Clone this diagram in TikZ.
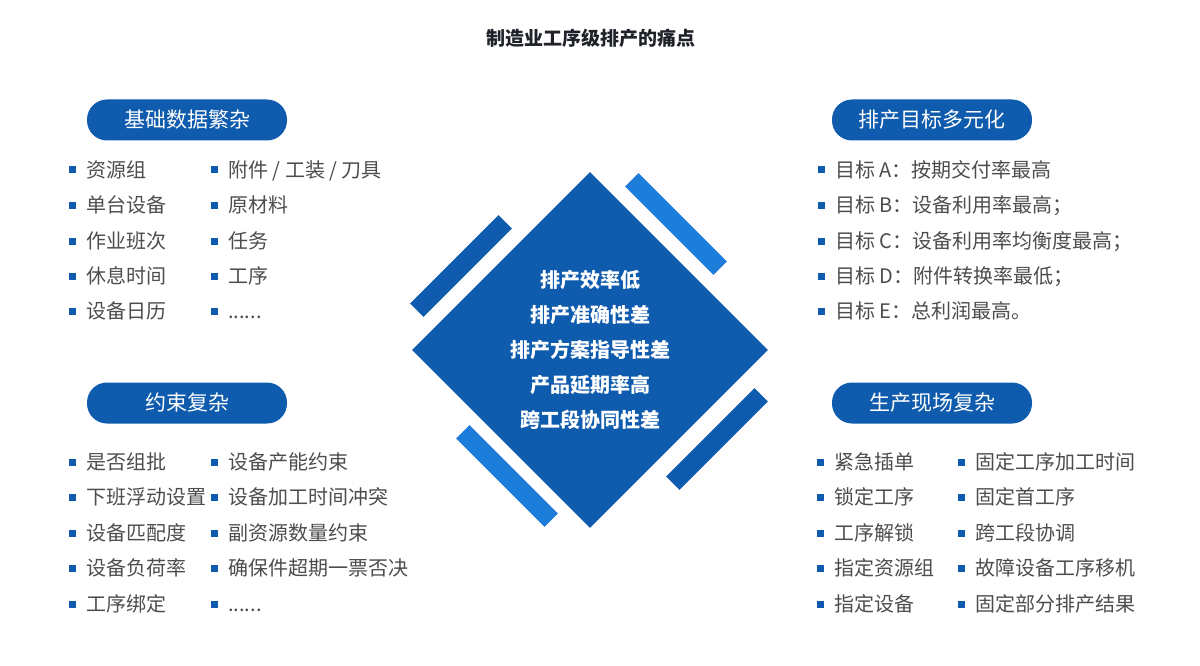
\documentclass[tikz,border=0pt]{standalone}
\usepackage{fontspec}
\setmainfont{Noto Sans CJK SC}
\usetikzlibrary{positioning,shapes.geometric}
\definecolor{dkblue}{HTML}{0F5BAD}
\definecolor{ltblue}{HTML}{1C7CDA}
\definecolor{txtgray}{HTML}{4D4D4D}
\definecolor{ttl}{HTML}{1F2329}
\tikzset{
  core/.style={diamond,fill=dkblue,minimum width=356pt,minimum height=356pt,
               inner sep=0pt},
  ctxt/.style={text=white,font=\fontsize{20}{35}\selectfont\bfseries,align=center},
  bar/.style ={minimum width=125pt,minimum height=19pt,inner sep=0pt},
  pill/.style={fill=dkblue,rounded corners=20pt,minimum width=200pt,
               minimum height=41pt,text=white,font=\fontsize{21}{21}\selectfont},
  sq/.style  ={fill=dkblue,minimum size=7pt,inner sep=0pt,
               text height=0pt,text depth=0pt,label distance=10pt},
  itm/.style ={anchor=west,inner sep=0pt,text=txtgray,
               font=\fontsize{20}{20}\selectfont,text height=17.6pt,text depth=2.4pt,
               label={[sq]left:{}}},
  hdr/.style ={font=\fontsize{19}{19}\selectfont\bfseries,text=ttl},
}
\begin{document}
\begin{tikzpicture}[x=1pt,y=-1pt]
  \fill[white] (0,0) rectangle (1200,666);
  \useasboundingbox (0,0) rectangle (1200,666);
  \node[hdr] (title) at (591,38) {制造业工序级排产的痛点};
  % centre diamond and the four bars
  \node[bar,fill=dkblue,rotate=45]  (barul) at (461,266) {};
  \node[bar,fill=ltblue,rotate=-45] (barur) at (676,224) {};
  \node[bar,fill=ltblue,rotate=-45] (barll) at (507,476) {};
  \node[bar,fill=dkblue,rotate=45]  (barlr) at (717,439) {};
  \node[core] (core) at (590,350) {};
  \node[ctxt] (coretxt) at (core) {排产效率低\\排产准确性差\\排产方案指导性差\\产品延期率高\\跨工段协同性差};
  % headings
  \node[pill] (pdata)  at (187,120) {基础数据繁杂};
  \node[pill] (pgoal)  at (932,120) {排产目标多元化};
  \node[pill] (pcons)  at (187,403) {约束复杂};
  \node[pill] (psite)  at (932,403) {生产现场复杂};
  % base data
  \node[itm] (d1) at (86,170) {资源组};
  \node[itm] (d2) at (86,205) {单台设备};
  \node[itm] (d3) at (86,241) {作业班次};
  \node[itm] (d4) at (86,276) {休息时间};
  \node[itm] (d5) at (86,311) {设备日历};
  \node[itm] (d6) at (228,170) {附件 / 工装 / 刀具};
  \node[itm] (d7) at (228,205) {原材料};
  \node[itm] (d8) at (228,241) {任务};
  \node[itm] (d9) at (228,276) {工序};
  \node[itm] (d10) at (228,311) {......};
  % goals
  \node[itm] (g1) at (835,170) {目标 A：按期交付率最高};
  \node[itm] (g2) at (835,205) {目标 B：设备利用率最高；};
  \node[itm] (g3) at (835,241) {目标 C：设备利用率均衡度最高；};
  \node[itm] (g4) at (835,276) {目标 D：附件转换率最低；};
  \node[itm] (g5) at (835,311) {目标 E：总利润最高。};
  % constraints
  \node[itm] (c1) at (86,462) {是否组批};
  \node[itm] (c2) at (86,497) {下班浮动设置};
  \node[itm] (c3) at (86,533) {设备匹配度};
  \node[itm] (c4) at (86,568) {设备负荷率};
  \node[itm] (c5) at (86,604) {工序绑定};
  \node[itm] (c6) at (228,462) {设备产能约束};
  \node[itm] (c7) at (228,497) {设备加工时间冲突};
  \node[itm] (c8) at (228,533) {副资源数量约束};
  \node[itm] (c9) at (228,568) {确保件超期一票否决};
  \node[itm] (c10) at (228,604) {......};
  % shop floor
  \node[itm] (s1) at (834,462) {紧急插单};
  \node[itm] (s2) at (834,497) {锁定工序};
  \node[itm] (s3) at (834,533) {工序解锁};
  \node[itm] (s4) at (834,568) {指定资源组};
  \node[itm] (s5) at (834,604) {指定设备};
  \node[itm] (s6) at (975,462) {固定工序加工时间};
  \node[itm] (s7) at (975,497) {固定首工序};
  \node[itm] (s8) at (975,533) {跨工段协调};
  \node[itm] (s9) at (975,568) {故障设备工序移机};
  \node[itm] (s10) at (975,604) {固定部分排产结果};
\end{tikzpicture}
\end{document}
